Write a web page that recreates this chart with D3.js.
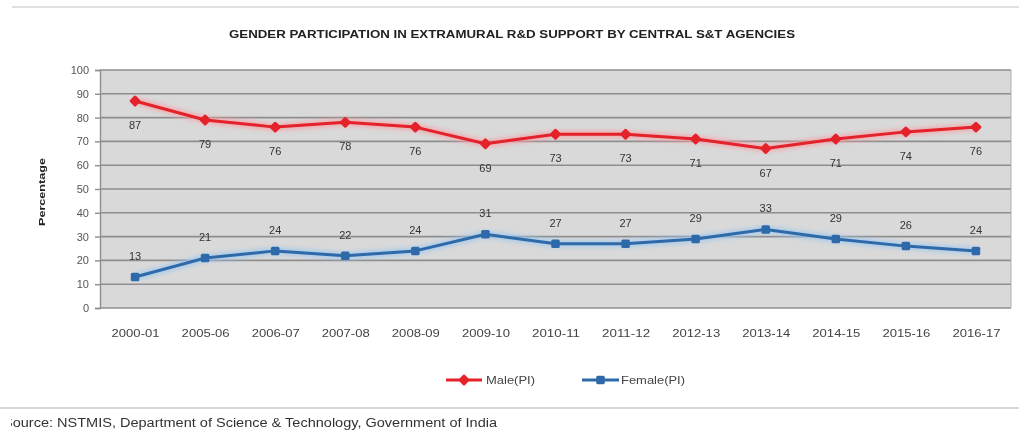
<!DOCTYPE html>
<html>
<head>
<meta charset="utf-8">
<script src="https://cdn.jsdelivr.net/npm/d3@7"></script>
<style>
  html, body { margin: 0; padding: 0; background: #fff; }
  svg { display: block; }
  text { font-family: "Liberation Sans", Arial, sans-serif; }
</style>
</head>
<body>
<svg id="chart" width="1019" height="435"></svg>
<script>
// Financial years on the category axis
const years = ["2000-01", "2005-06", "2006-07", "2007-08", "2008-09", "2009-10",
  "2010-11", "2011-12", "2012-13", "2013-14", "2014-15", "2015-16", "2016-17"];
// Share of principal investigators (%)
const malePI = [87, 79, 76, 78, 76, 69, 73, 73, 71, 67, 71, 74, 76];
const femalePI = [13, 21, 24, 22, 24, 31, 27, 27, 29, 33, 29, 26, 24];
// Value axis ticks
const yTicks = [0, 10, 20, 30, 40, 50, 60, 70, 80, 90, 100];

const svg = d3.select("#chart");

const plot = { left: 100, right: 1011, top: 70, bottom: 308 };

const x = d3.scalePoint().domain(years).range([plot.left, plot.right]).padding(0.5);
const y = d3.scaleLinear().domain([0, 100]).range([plot.bottom, plot.top]);

// soft glow used under each series line
const defs = svg.append("defs");
const glow = defs.append("filter").attr("id", "glow").attr("x", "-5%").attr("y", "-20%")
  .attr("width", "110%").attr("height", "140%");
glow.append("feGaussianBlur").attr("stdDeviation", 2.2);
const soft = defs.append("filter").attr("id", "soft");
soft.append("feGaussianBlur").attr("stdDeviation", 0.45);
defs.append("clipPath").attr("id", "srcClip")
  .append("rect").attr("x", 11).attr("y", 410).attr("width", 1000).attr("height", 25);

const root = svg.append("g").attr("filter", "url(#soft)");

// frame rules above and below the chart
root.append("line").attr("x1", 12).attr("x2", 1019).attr("y1", 7).attr("y2", 7)
  .attr("stroke", "#d6d6d6").attr("stroke-width", 1.5);
root.append("line").attr("x1", 0).attr("x2", 1019).attr("y1", 408).attr("y2", 408)
  .attr("stroke", "#c8c8c8").attr("stroke-width", 1.5);

// title
root.append("text")
  .attr("x", 512).attr("y", 38)
  .attr("text-anchor", "middle")
  .attr("font-size", 10.5).attr("font-weight", "bold").attr("fill", "#222")
  .attr("textLength", 566).attr("lengthAdjust", "spacingAndGlyphs")
  .text("GENDER PARTICIPATION IN EXTRAMURAL R&D SUPPORT BY CENTRAL S&T AGENCIES");

// plot background
root.append("rect")
  .attr("x", plot.left).attr("y", plot.top)
  .attr("width", plot.right - plot.left).attr("height", plot.bottom - plot.top)
  .attr("fill", "#d9d9d9");

// horizontal gridlines
root.append("g").selectAll("line").data(yTicks).join("line")
  .attr("x1", plot.left).attr("x2", plot.right)
  .attr("y1", d => y(d)).attr("y2", d => y(d))
  .attr("stroke", "#8e8e8e").attr("stroke-width", 1.6);

// right edge
root.append("line").attr("x1", plot.right).attr("x2", plot.right)
  .attr("y1", plot.top).attr("y2", plot.bottom)
  .attr("stroke", "#b0b0b0").attr("stroke-width", 1);

// value axis
const yAxis = root.append("g").attr("transform", `translate(${plot.left},0)`)
  .call(d3.axisLeft(y).tickValues(yTicks).tickSize(5).tickPadding(6).tickFormat(d3.format("d")));
yAxis.select(".domain").attr("stroke", "#8e8e8e").attr("stroke-width", 1.4);
yAxis.selectAll(".tick line").attr("stroke", "#8e8e8e").attr("stroke-width", 1.4);
yAxis.selectAll(".tick text").attr("font-size", 11).attr("fill", "#555")
  .attr("font-family", "Liberation Sans, Arial, sans-serif");

// category axis
const xAxis = root.append("g").attr("transform", `translate(0,${plot.bottom})`)
  .call(d3.axisBottom(x).tickSize(0).tickPadding(22));
xAxis.select(".domain").remove();
xAxis.selectAll(".tick text").attr("font-size", 10).attr("fill", "#444")
  .attr("font-family", "Liberation Sans, Arial, sans-serif")
  .attr("textLength", 48).attr("lengthAdjust", "spacingAndGlyphs");

// value axis title
root.append("text")
  .attr("transform", "translate(45,192) rotate(-90)")
  .attr("text-anchor", "middle")
  .attr("font-size", 9.5).attr("font-weight", "bold").attr("fill", "#222")
  .attr("textLength", 68).attr("lengthAdjust", "spacingAndGlyphs")
  .text("Percentage");

// markers: a square turned 45° for Male, an upright square for Female
const series = [
  { name: "Female(PI)", values: femalePI, color: "#2e6ba9", halo: "#9ec7ee", side: 8.5, rot: 0, dy: -17 },
  { name: "Male(PI)", values: malePI, color: "#e3202c", halo: "#f6a0a6", side: 8.5, rot: 45, dy: 28 }
];

const line = d3.line().x((d, i) => x(years[i])).y(d => y(d));

series.forEach(s => {
  const g = root.append("g");
  g.append("path").datum(s.values).attr("d", line)
    .attr("fill", "none").attr("stroke", s.halo).attr("stroke-width", 7)
    .attr("opacity", 0.8).attr("filter", "url(#glow)");
  g.append("path").datum(s.values).attr("d", line)
    .attr("fill", "none").attr("stroke", s.color).attr("stroke-width", 3)
    .attr("stroke-linejoin", "round");
  g.selectAll("rect.mark").data(s.values).join("rect").attr("class", "mark")
    .attr("transform", (d, i) => `translate(${x(years[i])},${y(d)}) rotate(${s.rot})`)
    .attr("x", -s.side / 2).attr("y", -s.side / 2)
    .attr("width", s.side).attr("height", s.side).attr("rx", 1.5)
    .attr("fill", s.color);
  g.selectAll("text").data(s.values).join("text")
    .attr("x", (d, i) => x(years[i]))
    .attr("y", d => y(d) + s.dy)
    .attr("text-anchor", "middle")
    .attr("font-size", 11).attr("fill", "#333")
    .text(d => d);
});

// legend
const legend = root.append("g").attr("transform", "translate(0,380)");
const legendItems = [
  { s: series[1], x1: 446, x2: 482, label: 486, w: 49 },
  { s: series[0], x1: 582, x2: 619, label: 621, w: 64 }
];
legendItems.forEach(it => {
  legend.append("line").attr("x1", it.x1).attr("x2", it.x2)
    .attr("stroke", it.s.halo).attr("stroke-width", 6).attr("opacity", 0.6).attr("filter", "url(#glow)");
  legend.append("line").attr("x1", it.x1).attr("x2", it.x2)
    .attr("stroke", it.s.color).attr("stroke-width", 3);
  legend.append("rect")
    .attr("transform", `translate(${(it.x1 + it.x2) / 2},0) rotate(${it.s.rot})`)
    .attr("x", -it.s.side / 2).attr("y", -it.s.side / 2)
    .attr("width", it.s.side).attr("height", it.s.side).attr("rx", 1.5)
    .attr("fill", it.s.color);
  legend.append("text").attr("x", it.label).attr("y", 4)
    .attr("font-size", 10).attr("fill", "#444")
    .attr("textLength", it.w).attr("lengthAdjust", "spacingAndGlyphs")
    .text(it.s.name);
});

// source note
root.append("text")
  .attr("clip-path", "url(#srcClip)")
  .attr("x", 3).attr("y", 427)
  .attr("font-size", 12).attr("fill", "#333")
  .attr("textLength", 494).attr("lengthAdjust", "spacingAndGlyphs")
  .text("Source: NSTMIS, Department of Science & Technology, Government of India");
</script>
</body>
</html>
